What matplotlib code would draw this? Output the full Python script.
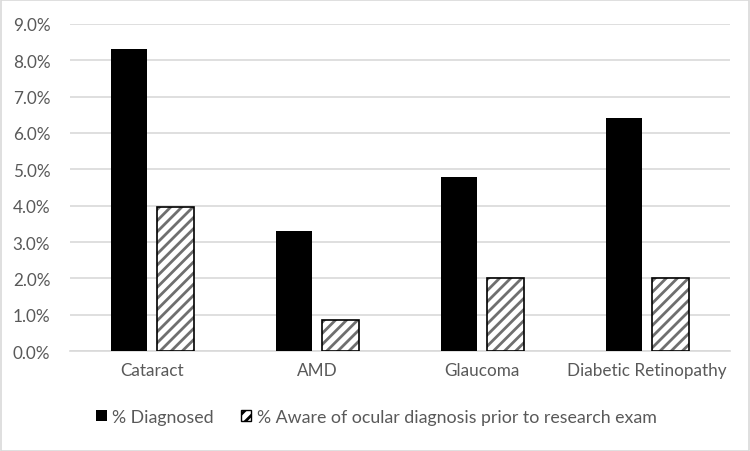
import matplotlib.pyplot as plt
import numpy as np
from matplotlib.patches import Rectangle

plt.rcParams['font.family'] = ['Lato', 'DejaVu Sans']
plt.rcParams['hatch.linewidth'] = 2.0

categories = ["Cataract", "AMD", "Glaucoma", "Diabetic Retinopathy"]
diagnosed = [8.3, 3.3, 4.8, 6.4]
aware = [3.95, 0.85, 2.0, 2.0]
yticks = [0, 1, 2, 3, 4, 5, 6, 7, 8, 9]

text_color = "#595959"
grid_color = "#d9d9d9"

fig = plt.figure(figsize=(7.5, 4.52), dpi=100)
ax = fig.add_axes([0.093, 0.221, 0.88, 0.724])

x = np.arange(len(categories))
w = 0.22
off = 0.14

# black bars
ax.bar(x - off, diagnosed, w, color="black", zorder=3)
# hatched bars: gray hatch fill + black outline
ax.bar(x + off, aware, w, color="white", edgecolor="#6f6f6f", hatch="///",
       linewidth=0, zorder=3)
ax.bar(x + off, aware, w, fill=False, edgecolor="black", linewidth=1.2, zorder=4)

ax.set_xlim(-0.5, len(categories) - 0.5)
ax.set_ylim(0, 9)
ax.set_yticks(yticks)
ax.set_yticklabels([f"{v:.1f}%" for v in yticks])
ax.set_xticks(x)
ax.set_xticklabels(categories)
ax.tick_params(length=0, labelsize=12.3, colors=text_color, pad=8)
ax.tick_params(axis='y', pad=14)
ax.yaxis.grid(True, color=grid_color, linewidth=1.2, zorder=0)
for s in ["top", "right", "left"]:
    ax.spines[s].set_visible(False)
ax.spines["bottom"].set_color(grid_color)
ax.spines["bottom"].set_linewidth(1.2)

handles = [Rectangle((0, 0), 1, 1, facecolor="black"),
           Rectangle((0, 0), 1, 1, facecolor="white", edgecolor="black",
                     hatch="///", linewidth=1)]
leg = fig.legend(handles, ["% Diagnosed", "% Aware of ocular diagnosis prior to research exam"],
                 loc="center", bbox_to_anchor=(0.502, 0.075), ncol=2, frameon=False,
                 fontsize=12.8, handlelength=0.6, handleheight=0.6, handletextpad=0.3,
                 columnspacing=1.5)
for t in leg.get_texts():
    t.set_color(text_color)

fig.patches.append(Rectangle((0.001, 0.001), 0.998, 0.997, transform=fig.transFigure,
                             fill=False, edgecolor=grid_color, linewidth=1.2))

fig.savefig("out.png", dpi=100)
